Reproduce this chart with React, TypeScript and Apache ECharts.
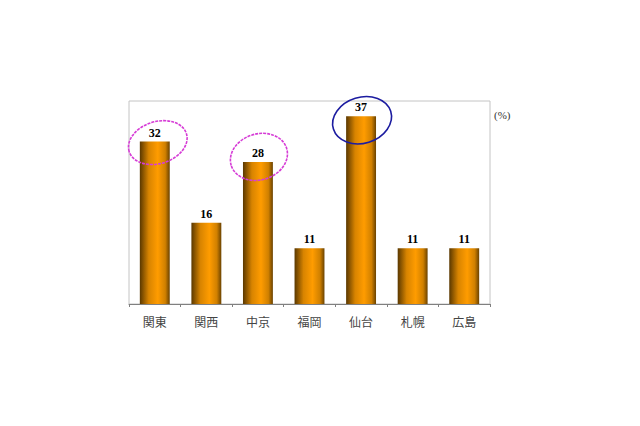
import React, { useEffect, useRef } from "react";
import * as echarts from "echarts";

const categories = ["関東", "関西", "中京", "福岡", "仙台", "札幌", "広島"];
const values = [32, 16, 28, 11, 37, 11, 11];
const valueLabels = ["32", "16", "28", "11", "37", "11", "11"];
const circled = ["関東", "中京", "仙台"];

// annotation ellipses drawn around some labels (offsets from bar top)
const rings: Record<string, any> = {
  関東: { dx: 3, dy: 1, rx: 30, ry: 21, color: "#d63cd6", dashed: true },
  中京: { dx: 1, dy: -5, rx: 29, ry: 23, color: "#d63cd6", dashed: true },
  仙台: { dx: 1, dy: 4, rx: 30, ry: 23, color: "#1c1ca0", dashed: false },
};

const App: React.FC = () => {
  const chartRef = useRef<HTMLDivElement>(null);

  useEffect(() => {
    if (!chartRef.current) return;
    const myChart = echarts.init(chartRef.current, undefined, { renderer: "svg" });

    const barColor = new echarts.graphic.LinearGradient(0, 0, 1, 0, [
      { offset: 0, color: "#5a3800" },
      { offset: 0.3, color: "#d88400" },
      { offset: 0.6, color: "#ff9c00" },
      { offset: 0.85, color: "#d08000" },
      { offset: 1, color: "#6a4200" },
    ]);

    const unitText = {
      type: "text",
      left: 494,
      top: 109,
      style: {
        text: "(%)",
        font: "11px 'Liberation Serif'",
        fill: "#333333",
      },
    };

    const option: echarts.EChartsOption = {
      animation: false,
      backgroundColor: "#ffffff",
      grid: {
        left: 129,
        right: 150,
        top: 101,
        bottom: 122,
        show: true,
        borderColor: "#c4c4c4",
        borderWidth: 1,
      },
      xAxis: {
        type: "category",
        data: categories,
        axisLine: { lineStyle: { color: "#808080", width: 1 } },
        axisTick: { show: true, length: 3, lineStyle: { color: "#808080" } },
        axisLabel: {
          margin: 11,
          fontSize: 12,
          color: "#444444",
          fontFamily: "Noto Sans CJK JP",
        },
      },
      yAxis: {
        type: "value",
        min: 0,
        max: 40,
        interval: 10,
        axisLine: { show: false },
        axisTick: { show: false },
        axisLabel: { show: false },
        splitLine: { show: false },
      },
      series: [
        {
          type: "bar",
          data: values,
          barWidth: "58%",
          itemStyle: { color: barColor },
          label: {
            show: true,
            position: "top",
            distance: 3,
            formatter: (p: any) => valueLabels[p.dataIndex],
            fontFamily: "Liberation Serif",
            fontWeight: "bold",
            fontSize: 12,
            color: "#000000",
          },
        },
      ],
      graphic: [unitText as any],
    };

    myChart.setOption(option);

    // ellipses placed from the bar tops through the chart's own scales
    const ellipses = circled.map((name) => {
      const idx = categories.indexOf(name);
      const r = rings[name];
      const [px, py] = myChart.convertToPixel({ gridIndex: 0 }, [idx, values[idx]]) as number[];
      return {
        type: "ellipse",
        x: px + r.dx,
        y: py + r.dy,
        rotation: 0.3,
        shape: { cx: 0, cy: 0, rx: r.rx, ry: r.ry },
        style: {
          fill: "none",
          stroke: r.color,
          lineWidth: 1.6,
          lineDash: r.dashed ? [3, 1] : null,
        },
        silent: true,
        z: 100,
      };
    });

    myChart.setOption({ graphic: [unitText, ...ellipses] } as any);

    return () => {
      myChart.dispose();
    };
  }, []);

  return (
    <div
      ref={chartRef}
      style={{ position: "absolute", left: 0, top: 0, width: "640px", height: "426px" }}
    />
  );
};

export default App;
